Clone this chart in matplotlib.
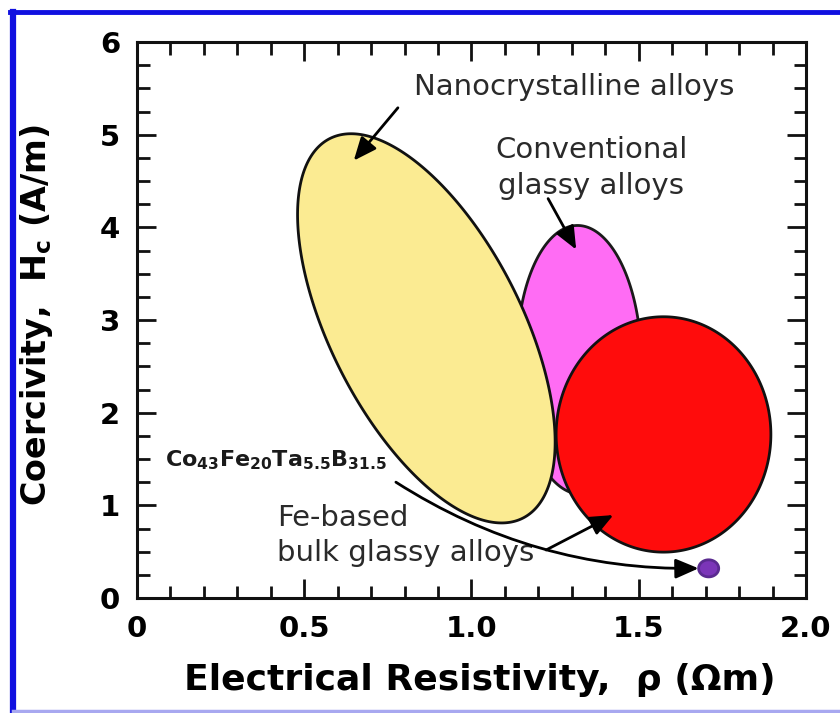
import numpy as np
import matplotlib
matplotlib.use("Agg")
import matplotlib.pyplot as plt
from matplotlib.lines import Line2D
from matplotlib.ticker import MultipleLocator

plt.rcParams["font.family"] = ["DejaVu Sans"]
plt.rcParams["mathtext.fontset"] = "dejavusans"

# Alloy families: region centre, half extents and tilt (x shift of the region's top point)
families = ["Conventional glassy alloys", "Nanocrystalline alloys",
            "Fe-based bulk glassy alloys", "Co43Fe20Ta5.5B31.5"]
center_rho = [1.322, 0.865, 1.574, 1.709]     # Ohm m
center_hc = [2.57, 2.91, 1.765, 0.32]         # A/m
half_rho = [0.186, 0.385, 0.321, 0.030]
half_hc = [1.45, 2.10, 1.27, 0.092]
top_shift = [-0.005, -0.225, 0.0, 0.0]
face_colors = ["#ff6cf4", "#fbeb92", "#ff0c0c", "#7b35b8"]
edge_colors = ["#1a1a1a", "#111111", "#111111", "#5a2a90"]

x_ticks = [0, 0.5, 1.0, 1.5, 2.0]
x_tick_labels = ["0", "0.5", "1.0", "1.5", "2.0"]
y_ticks = [0, 1, 2, 3, 4, 5, 6]

fig = plt.figure(figsize=(8.4, 7.13), dpi=100)
ax = fig.add_axes([137 / 840, 1 - 598 / 713, (806 - 137) / 840, (598 - 42) / 713])

t = np.linspace(0, 2 * np.pi, 500)
for cx, cy, hx, hy, dx, fc, ec in zip(center_rho, center_hc, half_rho, half_hc,
                                       top_shift, face_colors, edge_colors):
    e = np.sqrt(hx ** 2 - dx ** 2)
    xs = cx + dx * np.sin(t) + e * np.cos(t)
    ys = cy + hy * np.sin(t)
    ax.fill(xs, ys, facecolor=fc, edgecolor=ec, linewidth=2.0, zorder=2)

ax.set_xlim(0, 2.0)
ax.set_ylim(0, 6)
ax.set_xticks(x_ticks)
ax.set_xticklabels(x_tick_labels)
ax.set_yticks(y_ticks)
ax.xaxis.set_minor_locator(MultipleLocator(0.1))
ax.yaxis.set_minor_locator(MultipleLocator(0.25))
ax.tick_params(which="both", direction="in", top=True, right=True, width=2.0,
               color="#111111")
ax.tick_params(which="major", length=13.5, labelsize=21)
ax.tick_params(which="minor", length=9)
ax.tick_params(axis="x", pad=12)
ax.tick_params(axis="y", pad=12)
for lab in ax.get_xticklabels() + ax.get_yticklabels():
    lab.set_fontweight("bold")
for sp in ax.spines.values():
    sp.set_linewidth(2.2)
    sp.set_color("#111111")
    sp.set_zorder(5)

ax.set_xlabel("Electrical Resistivity,  \u03c1 (\u03a9m)", fontsize=26,
              fontweight="bold", va="center")
ax.xaxis.set_label_coords(0.513, -0.147)
ax.set_ylabel("Coercivity,  H$_\\mathregular{c}$ (A/m)", fontsize=24,
              fontweight="bold", va="center")
ax.yaxis.set_label_coords(-0.150, 0.509)

txt_color = "#2a2a2a"
arrow_kw = dict(arrowstyle="-|>,head_length=0.7,head_width=0.3", color="black",
                lw=2.0, mutation_scale=20, shrinkA=0, shrinkB=0)

ax.text(0.828, 5.51, "Nanocrystalline alloys", fontsize=21, color=txt_color,
        ha="left", va="center")
ax.annotate("", xy=(0.648, 4.72), xytext=(0.78, 5.29), arrowprops=arrow_kw, zorder=4)

ax.text(1.358, 4.64, "Conventional\nglassy alloys", fontsize=21, color=txt_color,
        ha="center", va="center", multialignment="center", linespacing=1.38)
ax.annotate("", xy=(1.313, 3.76), xytext=(1.229, 4.31), arrowprops=arrow_kw, zorder=4)

ax.text(0.42, 0.674, "Fe-based\nbulk glassy alloys", fontsize=21, color=txt_color,
        ha="left", va="center", linespacing=1.3)
ax.annotate("", xy=(1.424, 0.895), xytext=(1.223, 0.518), arrowprops=arrow_kw, zorder=4)

ax.text(0.084, 1.49, r"$\mathbf{Co_{43}Fe_{20}Ta_{5.5}B_{31.5}}$", fontsize=16,
        color="#1a1a1a", ha="left", va="center")
dot_x, dot_y, dot_hw = center_rho[3], center_hc[3], half_rho[3]
curve_kw = dict(arrow_kw, connectionstyle="arc3,rad=0.15")
ax.annotate("", xy=(dot_x - dot_hw, dot_y), xytext=(0.774, 1.25),
            arrowprops=curve_kw, zorder=4)

# Frame around the figure
fig.add_artist(Line2D([10 / 840, 1.0], [1 - 12 / 713, 1 - 12 / 713],
                      transform=fig.transFigure, color="#1010e0", lw=3.5))
fig.add_artist(Line2D([13 / 840, 13 / 840], [1 - 12 / 713, 0.0],
                      transform=fig.transFigure, color="#1010e0", lw=4.5))
fig.add_artist(Line2D([13 / 840, 1.0], [2 / 713, 2 / 713],
                      transform=fig.transFigure, color="#a8a8f0", lw=2.5))

fig.savefig("out.png", dpi=100)
